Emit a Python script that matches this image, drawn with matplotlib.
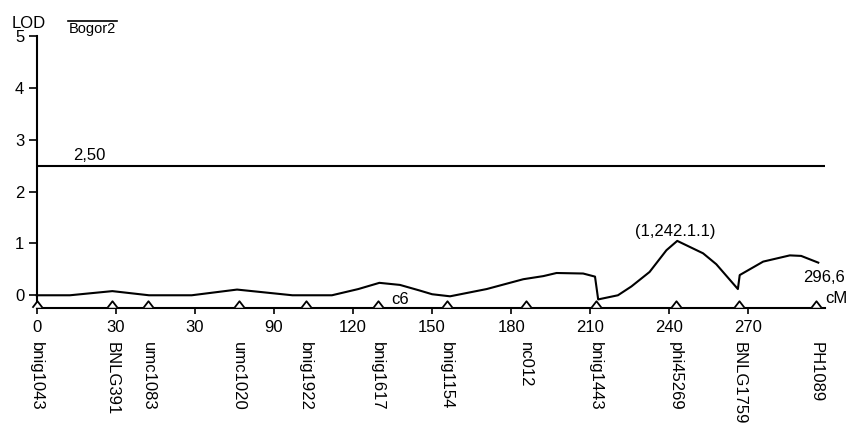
import matplotlib
matplotlib.use("Agg")
import matplotlib.pyplot as plt
from matplotlib.lines import Line2D

plt.rcParams['font.family'] = ['Liberation Sans', 'DejaVu Sans']

# ---- data ----
curve_cm = [0, 12.6, 28.7, 42.6, 58.8, 76.0, 97.0, 112.0, 122.0, 130.0, 137.8, 145.4,
            150.0, 156.8, 170.7, 184.6, 192.2, 197.2, 207.3, 211.8, 213.0, 220.5, 225.6,
            232.5, 238.9, 243.0, 252.8, 257.8, 266.0, 266.7, 275.6, 285.7, 290.0, 296.5]
curve_lod = [0.0, 0.0, 0.08, 0.0, 0.0, 0.11, 0.0, 0.0, 0.12, 0.24, 0.2, 0.09,
             0.02, -0.02, 0.12, 0.31, 0.37, 0.43, 0.42, 0.36, -0.08, 0.0, 0.17,
             0.45, 0.87, 1.05, 0.81, 0.6, 0.12, 0.39, 0.65, 0.77, 0.76, 0.63]

marker_names = ['bnig1043', 'BNLG391', 'umc1083', 'umc1020', 'bnig1922', 'bnig1617',
                'bnig1154', 'nc012', 'bnig1443', 'phi45269', 'BNLG1759', 'PH1089']
marker_cm = [0, 28.6, 42.4, 76.6, 102.1, 129.3, 155.5, 185.5, 212.0, 242.4, 266.4, 295.8]

xtick_pos = [0, 30, 60, 90, 120, 150, 180, 210, 240, 270]
xtick_labels = ['0', '30', '30', '90', '120', '150', '180', '210', '240', '270']
ytick_pos = [0, 1, 2, 3, 4, 5]

threshold = 2.5
threshold_label = '2,50'
peak_label = '(1,242.1.1)'
peak_pos = (242.2, 1.24)
end_label = '296,6'

FS = 12

# ---- figure ----
W, H = 848, 424
fig = plt.figure(figsize=(W / 100, H / 100), dpi=100)
left, right, top, bottom = 36.7, 825, 36.3, 307.7
ax = fig.add_axes([left / W, 1 - bottom / H, (right - left) / W, (bottom - top) / H])

ax.set_xlim(0, (right - left) / 2.636)
ax.set_ylim(-0.24, 5.0)

for s in ['top', 'right']:
    ax.spines[s].set_visible(False)
for s in ['left', 'bottom']:
    ax.spines[s].set_linewidth(1.5)
    ax.spines[s].set_color('black')

ax.set_xticks(xtick_pos)
ax.set_xticklabels(xtick_labels)
ax.set_yticks(ytick_pos)
ax.tick_params(axis='both', direction='out', width=1.2, labelsize=FS, colors='black')
ax.tick_params(axis='x', length=4, pad=5)
ax.tick_params(axis='y', length=5.5, pad=3.5)

# threshold
ax.plot([0, ax.get_xlim()[1]], [threshold, threshold], color='black', lw=1.5)
ax.text(13.8, 2.69, threshold_label, fontsize=FS, ha='left', va='center')

# LOD curve
ax.plot(curve_cm, curve_lod, color='black', lw=1.5, clip_on=False)

# markers (chevrons sitting on the axis)
chevron = [(-1, -0.65), (0, 0.65), (1, -0.65)]
ax.plot(marker_cm, [-0.177] * len(marker_cm), linestyle='none', marker=chevron,
        markersize=7.2, markerfacecolor='white', markeredgecolor='black',
        markeredgewidth=1.3, clip_on=False, zorder=5)
for name, x in zip(marker_names, marker_cm):
    ax.annotate(name, xy=(x, 0), xycoords=('data', 'axes fraction'),
                xytext=(0, -24.5), textcoords='offset points',
                rotation=270, ha='center', va='top', fontsize=FS,
                annotation_clip=False)

# annotations
ax.text(peak_pos[0], peak_pos[1], peak_label, fontsize=FS, ha='center', va='center')
ax.text(134.6, -0.09, 'c6', fontsize=FS, ha='left', va='center')
ax.text(290.7, 0.34, end_label, fontsize=FS, ha='left', va='center', clip_on=False)
ax.text(299.0, -0.07, 'cM', fontsize=FS, ha='left', va='center', clip_on=False)

# header texts
fig.text(29 / W, 1 - 28.5 / H, 'LOD', fontsize=FS, ha='center', va='baseline')
fig.text(92.5 / W, 1 - 33 / H, 'Bogor2', fontsize=10.5, ha='center', va='baseline')
fig.add_artist(Line2D([68 / W, 117 / W], [1 - 20.7 / H, 1 - 20.7 / H], color='black',
                      lw=1.2, transform=fig.transFigure))

fig.savefig('out.png', dpi=100)
